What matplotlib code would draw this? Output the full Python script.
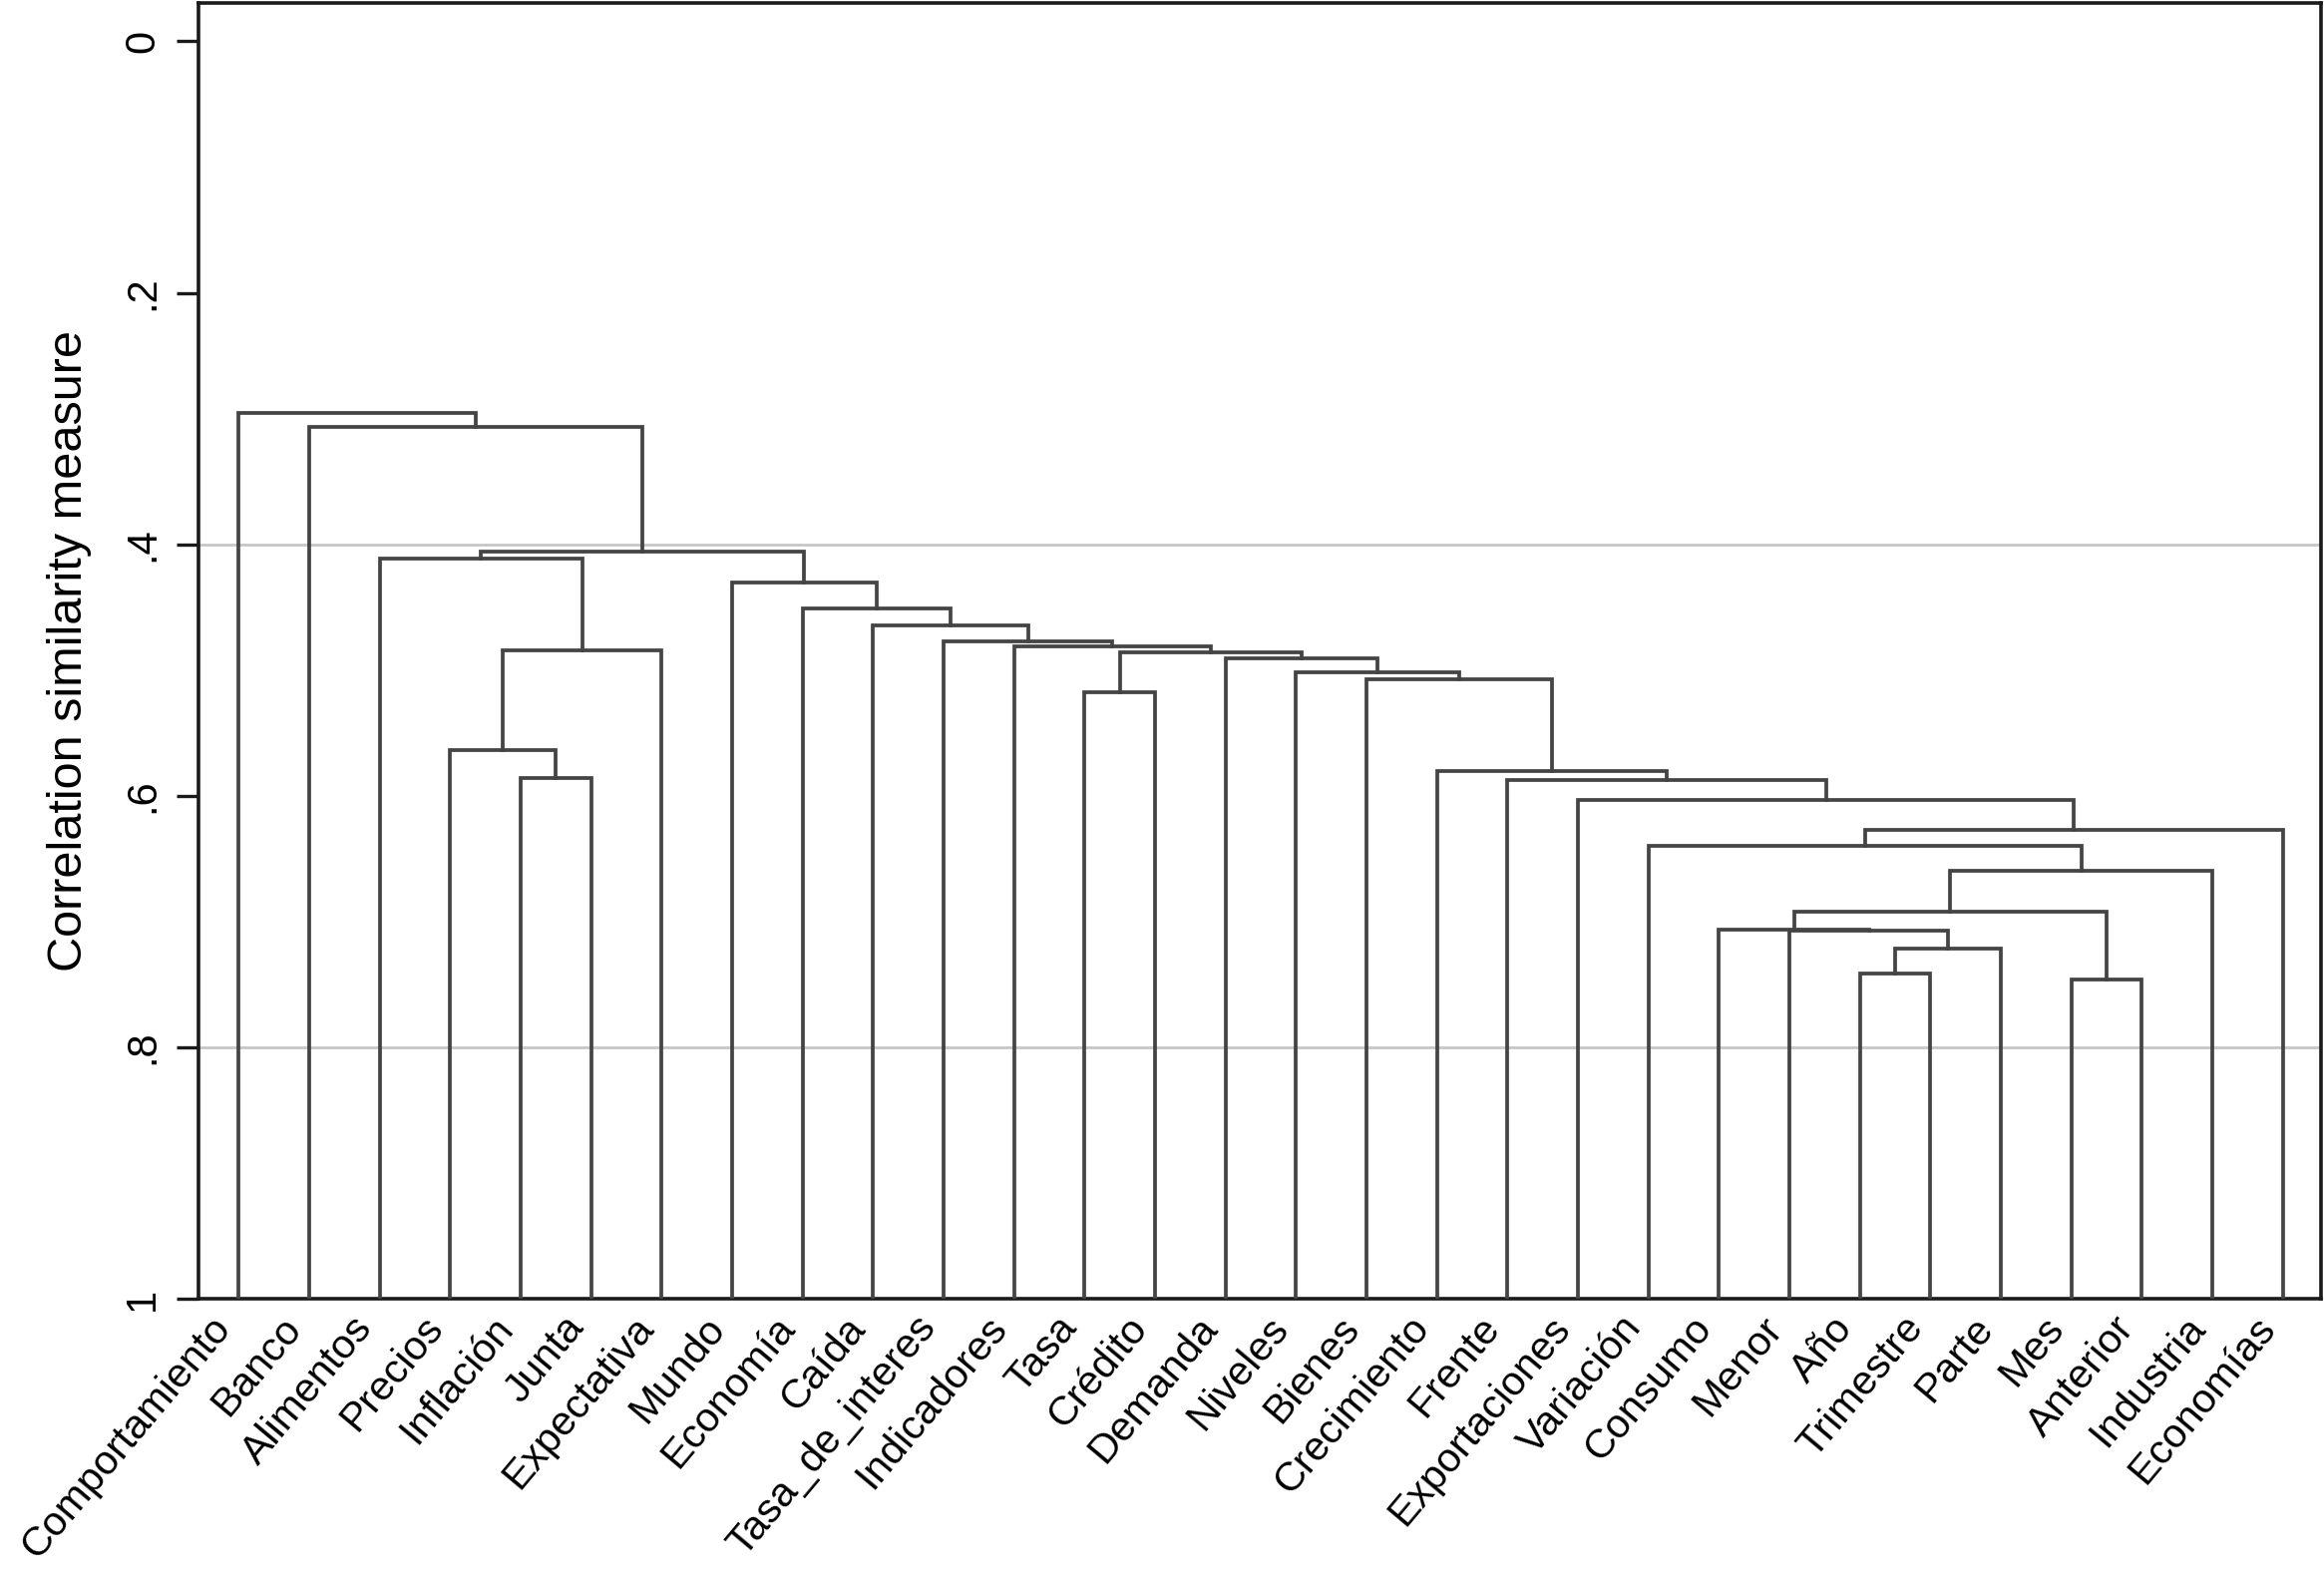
import matplotlib
matplotlib.use("Agg")
import matplotlib.pyplot as plt

plt.rcParams['font.family'] = ['Liberation Sans', 'DejaVu Sans']

# ---- data ----
leaves = ["Comportamiento", "Banco", "Alimentos", "Precios", "Inflación", "Junta",
          "Expectativa", "Mundo", "Economía", "Caída", "Tasa_de_interes", "Indicadores",
          "Tasa", "Crédito", "Demanda", "Niveles", "Bienes", "Crecimiento", "Frente",
          "Exportaciones", "Variación", "Consumo", "Menor", "Año", "Trimestre", "Parte",
          "Mes", "Anterior", "Industria", "Economías"]

# merges m1..m29 (children are leaf names or earlier merge ids)
merge_left = ["Inflación", "Precios", "m2", "Alimentos", "Tasa", "Año", "m6", "Menor",
              "Consumo", "Mes", "m9", "m11", "Variación", "m13", "Exportaciones", "Frente",
              "Crecimiento", "Bienes", "Niveles", "Demanda", "m5", "Indicadores",
              "Tasa_de_interes", "Caída", "Economía", "Mundo", "m4", "Banco", "Comportamiento"]
merge_right = ["Junta", "m1", "Expectativa", "m3", "Crédito", "Trimestre", "Parte", "m7",
               "m8", "Anterior", "m10", "Industria", "m12", "Economías", "m14", "m15", "m16",
               "m17", "m18", "m19", "m20", "m21", "m22", "m23", "m24", "m25", "m26", "m27", "m28"]
merge_height = [0.586, 0.564, 0.4845, 0.4113, 0.5175, 0.741, 0.7215, 0.707, 0.7064, 0.7458,
                0.692, 0.6594, 0.6401, 0.6272, 0.6031, 0.5872, 0.5803, 0.5072, 0.5022, 0.4906,
                0.4863, 0.481, 0.4771, 0.4646, 0.4507, 0.4305, 0.4057, 0.307, 0.2955]

ytick_vals = [0, 0.2, 0.4, 0.6, 0.8, 1.0]
ytick_labels = ["0", ".2", ".4", ".6", ".8", "1"]
grid_vals = [0.4, 0.8]
ylabel = "Correlation similarity measure"

# ---- figure ----
W, H = 2330, 1581
fig = plt.figure(figsize=(W / 100, H / 100), dpi=100)
ax = fig.add_axes([199 / W, 1 - 1302 / H, (2327 - 199) / W, (1302 - 3) / H])

line_col = "#444444"
lw = 2.7

pos = {name: (i, 1.0) for i, name in enumerate(leaves)}
for k, (a, b, h) in enumerate(zip(merge_left, merge_right, merge_height)):
    xa, ya = pos[a]
    xb, yb = pos[b]
    ax.plot([xa, xa, xb, xb], [ya, h, h, yb], color=line_col, lw=lw,
            solid_joinstyle='miter', solid_capstyle='projecting', zorder=3)
    pos["m%d" % (k + 1)] = ((xa + xb) / 2, h)

for g in grid_vals:
    ax.axhline(g, color="#c6c6c6", lw=2.0, zorder=1)

ax.set_xlim(-0.57, 29.54)
ax.set_ylim(1.0, -0.0305)

ax.set_yticks(ytick_vals)
ax.set_yticklabels(ytick_labels, rotation=90, va='center', fontsize=30)
ax.tick_params(axis='y', length=16, width=2.4, pad=10, color="#1a1a1a")

ax.set_xticks(range(len(leaves)))
ax.set_xticklabels(leaves, rotation=50, ha='right', va='bottom',
                   rotation_mode='anchor', fontsize=29.5)
ax.tick_params(axis='x', length=0, pad=25)

for s in ax.spines.values():
    s.set_linewidth(2.6)
    s.set_color("#1a1a1a")

ax.set_ylabel(ylabel, fontsize=35, labelpad=22)

fig.savefig("out.png", dpi=100, facecolor="white")
